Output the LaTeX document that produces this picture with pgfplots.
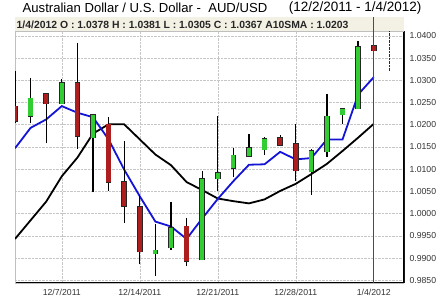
\documentclass[border=0pt]{standalone}
\usepackage{pgfplots}
\usepackage{pgfplotstable}
\pgfplotsset{compat=1.18}
\usepackage{fontspec}
\setmainfont{Liberation Sans}
\definecolor{cgreen}{RGB}{50,205,50}
\definecolor{cred}{RGB}{175,30,30}
\definecolor{maBlue}{RGB}{20,20,215}
\definecolor{band}{RGB}{243,240,228}
% rising days (green): day open high low close
\pgfplotstableread{
d  o      h      l      c
1  1.0219 1.0306 1.0203 1.0260
3  1.0247 1.0304 1.0246 1.0294
5  1.0171 1.0225 1.0048 1.0222
9  0.9910 0.9976 0.9860 0.9917
10 0.9923 1.0027 0.9919 0.9968
12 0.9896 1.0096 0.9895 1.0079
13 1.0079 1.0219 1.0051 1.0092
14 1.0102 1.0148 1.0082 1.0131
15 1.0129 1.0180 1.0128 1.0148
16 1.0144 1.0173 1.0133 1.0169
19 1.0094 1.0145 1.0043 1.0142
20 1.0139 1.0270 1.0127 1.0219
21 1.0223 1.0237 1.0201 1.0236
22 1.0236 1.0388 1.0235 1.0375
}\up
% falling days (red)
\pgfplotstableread{
d  o      h      l      c
0  1.0242 1.0322 1.0205 1.0208
2  1.0270 1.0272 1.0158 1.0247
4  1.0294 1.0383 1.0146 1.0174
6  1.0201 1.0217 1.0052 1.0071
7  1.0072 1.0163 0.9979 1.0017
8  1.0015 1.0043 0.9886 0.9914
11 0.9972 0.9991 0.9882 0.9893
17 1.0171 1.0176 1.0152 1.0154
18 1.0157 1.0202 1.0073 1.0096
23 1.0378 1.0381 1.0305 1.0367
}\down
\pgfplotsset{
  wick/.style={draw=none, mark=none, forget plot,
    error bars/.cd, y dir=plus, y explicit, error mark=none,
    error bar style={black, line width=1.3pt}},
  bodyout/.style={draw=none, mark=none, forget plot,
    error bars/.cd, y dir=plus, y explicit, error mark=none,
    error bar style={black!85, line width=5.6pt}},
  bodyin/.style={draw=none, mark=none, forget plot,
    error bars/.cd, y dir=plus, y explicit, error mark=none,
    error bar style={#1, line width=4.2pt}},
}
\begin{document}
\begin{tikzpicture}
\path[use as bounding box] (0pt,0pt) rectangle (438pt,298pt);
% header band
\fill[band] (15pt,267pt) rectangle (404pt,281pt);
\node[anchor=west, inner sep=0pt, font=\bfseries\fontsize{10.4}{12}\selectfont, text=black!85] at (16.5pt,273.5pt)
  {1/4/2012 O : 1.0378 H : 1.0381 L : 1.0305 C : 1.0367 A10SMA : 1.0203};
% title
\node[anchor=west, inner sep=0pt, font=\fontsize{13.1}{16}\selectfont] at (22.5pt,290pt)
  {Australian Dollar / U.S. Dollar -\ \ AUD/USD};
\node[anchor=east, inner sep=0pt, font=\fontsize{13.5}{16}\selectfont] at (421.7pt,290pt)
  {(12/2/2011 - 1/4/2012)};
\begin{axis}[
  at={(15pt,15pt)}, anchor=south west,
  scale only axis, width=389pt, height=252pt,
  xmin=0, xmax=24.94, ymin=0.98438, ymax=1.0411,
  axis x line*=bottom, axis y line*=right,
  axis line style={-, black, line width=1.4pt},
  xtick={3,8,13,18,23},
  xticklabels={12/7/2011,12/14/2011,12/21/2011,12/28/2011,1/4/2012},
  ytick={0.985,0.990,0.995,1.000,1.005,1.010,1.015,1.020,1.025,1.030,1.035,1.040},
  grid=major, grid style={densely dotted, gray!45, line width=0.5pt},
  major tick length=0pt,
  tick label style={font=\fontsize{8.7}{10}\selectfont, text=black!80},
  yticklabel style={anchor=west, xshift=2pt,
    /pgf/number format/fixed, /pgf/number format/fixed zerofill,
    /pgf/number format/precision=4, /pgf/number format/assume math mode=true},
  xticklabel style={yshift=-3pt},
]
\draw[gray!50, line width=0.5pt] (rel axis cs:0,0) rectangle (rel axis cs:1,1);
% black average
\addplot[black, line width=1.8pt] coordinates {
(0,0.9943) (1,0.9985) (2,1.0027) (3,1.0084) (4,1.0126) (5,1.0180) (6,1.0201) (7,1.0201)
(8,1.0167) (9,1.0133) (10,1.0109) (11,1.0071) (12,1.0053) (13,1.0034) (14,1.0028) (15,1.0023)
(16,1.0032) (17,1.0051) (18,1.0067) (19,1.0089) (20,1.0112) (21,1.0141) (22,1.0171) (23,1.0202)};
% blue average
\addplot[maBlue, line width=1.8pt] coordinates {
(0,1.0147) (1,1.0193) (2,1.0212) (3,1.0242) (4,1.0227) (5,1.0217) (6,1.0167) (7,1.0099)
(8,1.0039) (9,0.9982) (10,0.9971) (11,0.9943) (12,0.9989) (13,1.0033) (14,1.0073) (15,1.0110)
(16,1.0111) (17,1.0139) (18,1.0122) (19,1.0125) (20,1.0167) (21,1.0167) (22,1.0268) (23,1.0307)};
\addplot[maBlue, line width=1.3pt, dash pattern=on 2.5pt off 1pt] coordinates {(24,1.0321) (24,1.0411)};
% wicks
\addplot[wick] table[x=d, y=l, y error expr=\thisrow{h}-\thisrow{l}] {\up};
\addplot[wick] table[x=d, y=l, y error expr=\thisrow{h}-\thisrow{l}] {\down};
% bodies: outline then fill
\addplot[bodyout] table[x=d, y expr=\thisrow{o}-0.00012, y error expr=\thisrow{c}-\thisrow{o}+0.00024] {\up};
\addplot[bodyout] table[x=d, y expr=\thisrow{c}-0.00012, y error expr=\thisrow{o}-\thisrow{c}+0.00024] {\down};
\addplot[bodyin=cgreen] table[x=d, y=o, y error expr=\thisrow{c}-\thisrow{o}] {\up};
\addplot[bodyin=cred] table[x=d, y=c, y error expr=\thisrow{o}-\thisrow{c}] {\down};
\end{axis}
% cursor line at 1/4/2012
\draw[black!70, line width=0.8pt] (373.8pt,15pt) -- (373.8pt,281pt);
\end{tikzpicture}
\end{document}
